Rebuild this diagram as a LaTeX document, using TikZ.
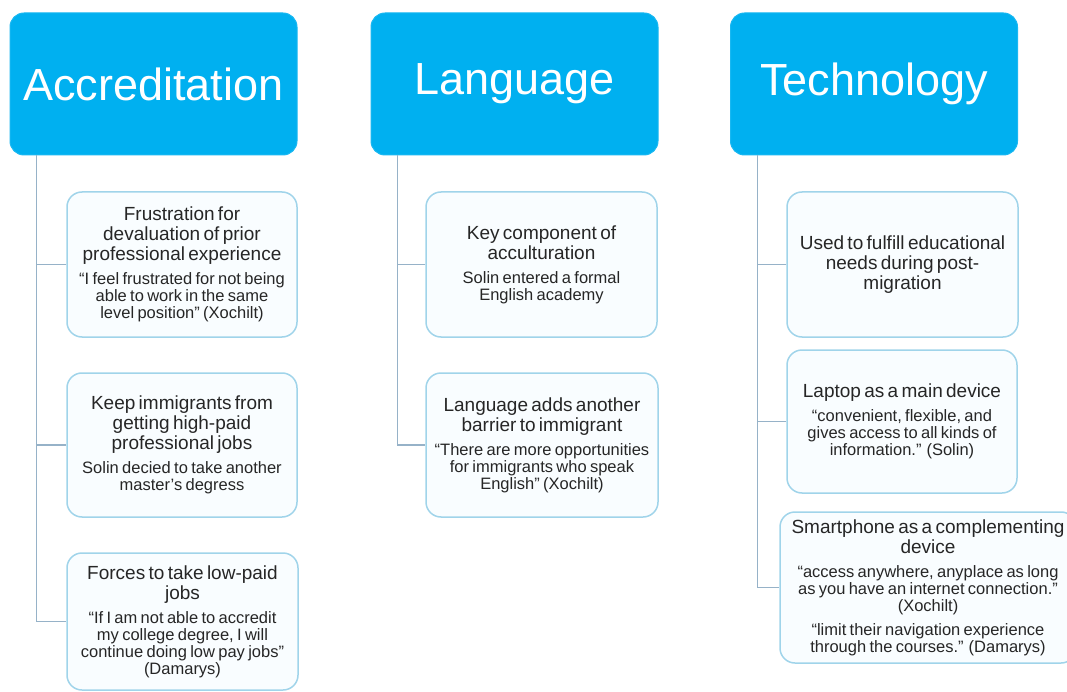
\documentclass[tikz,border=0pt]{standalone}
\usepackage{fontspec}
\setmainfont{Liberation Sans}
\definecolor{hdr}{RGB}{0,176,240}
\definecolor{cbord}{RGB}{160,212,234}
\definecolor{cfill}{RGB}{249,253,255}
\definecolor{connc}{RGB}{150,178,200}
\definecolor{txt}{RGB}{38,38,38}
\newcommand\mt[1]{{\fontsize{19}{20}\selectfont #1\par}}
\newcommand\qt[1]{\vspace{7pt}{\fontsize{16.5}{17}\selectfont #1\par}}
\tikzset{
  hdrbox/.style={rectangle, rounded corners=14pt, fill=hdr, draw=hdr!90!white, line width=1pt,
    minimum width=287pt, minimum height=142pt, text=white, inner sep=0pt,
    font=\fontsize{45}{50}\selectfont},
  childbox/.style={rectangle, rounded corners=15pt, fill=cfill, draw=cbord, line width=1.5pt,
    inner sep=2pt, align=center, text=txt},
  connline/.style={draw=connc, line width=1.8pt}
}
\begin{document}
\begin{tikzpicture}[x=1pt,y=-1pt]
\useasboundingbox (0,0) rectangle (1067,692);
\clip (0,0) rectangle (1067,692);
\fill[white] (0,0) rectangle (1067,692);

% headers
\node[hdrbox] (acc) at (153.5,84) {Accreditation};
\node[hdrbox] (lang) at (514.5,84) {Language};
\node[hdrbox] (tech) at (874,84) {Technology};

\coordinate (accT) at ([xshift=27pt]acc.south west);
\coordinate (langT) at ([xshift=27pt]lang.south west);
\coordinate (techT) at ([xshift=27.5pt]tech.south west);

% Accreditation children
\node[childbox, minimum width=230pt, minimum height=145pt, text width=224pt] (a1) at (182,264.5)
 {\mt{Frustration for\\devaluation of prior\\professional experience}\qt{“I feel frustrated for not being\\able to work in the same\\level position” (Xochilt)}};
\node[childbox, minimum width=230pt, minimum height=144pt, text width=224pt] (a2) at (182,445)
 {\mt{Keep immigrants from\\getting high-paid\\professional jobs}\qt{Solin decied to take another\\master’s degress}};
\node[childbox, minimum width=231pt, minimum height=137pt, text width=225pt] (a3) at (182.5,621.5)
 {\mt{Forces to take low-paid\\jobs}\qt{“If I am not able to accredit\\my college degree, I will\\continue doing low pay jobs”\\(Damarys)}};

% Language children
\node[childbox, minimum width=231pt, minimum height=145pt, text width=225pt] (l1) at (541.5,264.5)
 {\mt{Key component of\\acculturation}\qt{Solin entered a formal\\English academy}};
\node[childbox, minimum width=232pt, minimum height=144pt, text width=226pt] (l2) at (542,445)
 {\mt{Language adds another\\barrier to immigrant}\qt{“There are more opportunities\\for immigrants who speak\\English” (Xochilt)}};

% Technology children
\node[childbox, minimum width=231pt, minimum height=145pt, text width=225pt] (t1) at (902.5,264.5)
 {\mt{Used to fulfill educational\\needs during post-\\migration}};
\node[childbox, minimum width=230pt, minimum height=143pt, text width=224pt] (t2) at (902,421.5)
 {\mt{Laptop as a main device}\qt{“convenient, flexible, and\\gives access to all kinds of\\information.” (Solin)}};
\node[childbox, minimum width=296pt, minimum height=151pt, text width=290pt] (t3) at (928,587.5)
 {\mt{Smartphone as a complementing\\device}\qt{“access anywhere, anyplace as long\\as you have an internet connection.”\\(Xochilt)}\qt{“limit their navigation experience\\through the courses.” (Damarys)}};

% connectors
\draw[connline] (accT) |- (a3.west);
\draw[connline] (a1.west) -- (a1.west -| accT);
\draw[connline] (a2.west) -- (a2.west -| accT);

\draw[connline] (langT) |- (l2.west);
\draw[connline] (l1.west) -- (l1.west -| langT);

\draw[connline] (techT) |- (t3.west);
\draw[connline] (t1.west) -- (t1.west -| techT);
\draw[connline] (t2.west) -- (t2.west -| techT);
\end{tikzpicture}
\end{document}
